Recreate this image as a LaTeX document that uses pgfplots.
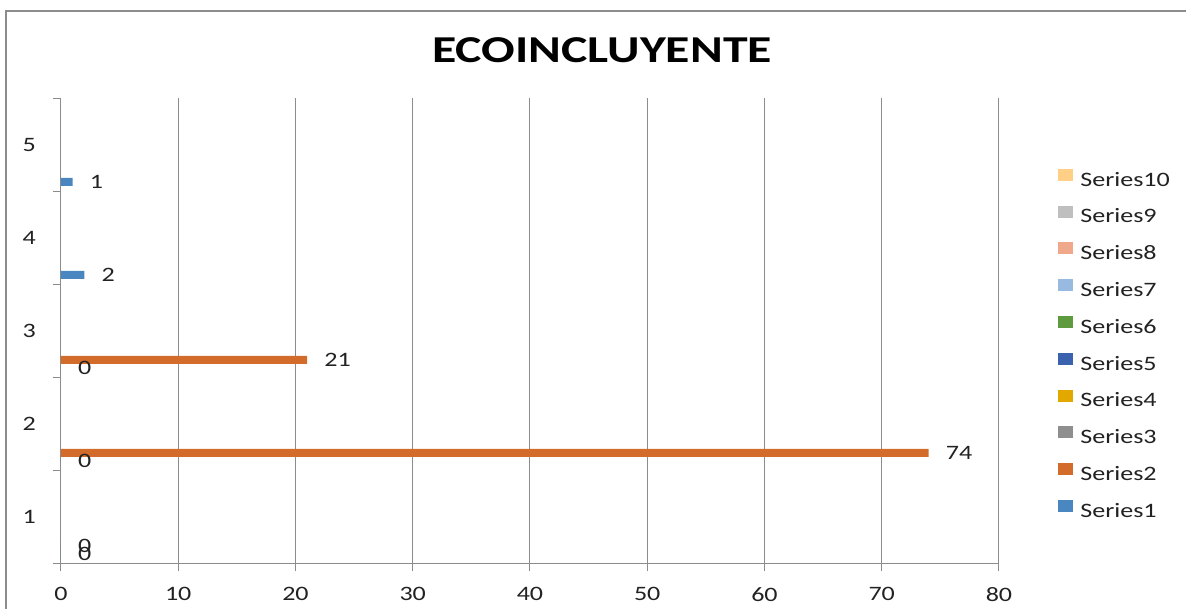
\documentclass[border=0pt]{standalone}
\usepackage{pgfplots}
\pgfplotsset{compat=1.18}
\usepackage{fontspec}
\setmainfont{Carlito}[FakeStretch=1.27]
\newfontfamily\titlefont{Carlito}[FakeStretch=1.31]

\definecolor{sA}{HTML}{4A86C0}
\definecolor{sB}{HTML}{D36C2A}
\definecolor{sC}{HTML}{8E8E8E}
\definecolor{sD}{HTML}{E2A800}
\definecolor{sE}{HTML}{3A62AF}
\definecolor{sF}{HTML}{5E9A3E}
\definecolor{sG}{HTML}{98B9E0}
\definecolor{sH}{HTML}{F0A88A}
\definecolor{sI}{HTML}{BFBFBF}
\definecolor{sJ}{HTML}{FFCF85}
\definecolor{gridgray}{HTML}{8C8C8C}
\definecolor{textcol}{HTML}{222222}

\newcommand{\lblfont}{\fontsize{20.5bp}{24bp}\selectfont}
\newcommand{\legsq}[1]{\addlegendimage{legend image code/.code={\fill[#1] (0bp,-0.5bp) rectangle (14bp,10.5bp);}}}

\begin{document}
\begin{tikzpicture}[x=1bp,y=1bp]
\path[use as bounding box] (0,0) rectangle (1186,609);
\draw[gridgray, line width=1.2bp] (6,0) -- (6,598) -- (1186,598);
\node[font=\titlefont\bfseries\fontsize{38bp}{44bp}\selectfont, anchor=base, text=black] at (602,546) {ECOINCLUYENTE};
\begin{axis}[
  at={(52,49)}, anchor=south west,
  scale only axis, width=938bp, height=465bp,
  xbar, bar width=8bp,
  xmin=0, xmax=80, ymin=0.5, ymax=5.5,
  axis x line=bottom, axis y line=left,
  axis line style={-, draw=gridgray, line width=1bp},
  xtick={0,10,...,80},
  tick align=outside, major tick length=8bp,
  tick style={draw=gridgray, line width=1bp},
  xmajorgrids, major grid style={draw=gridgray, line width=1bp},
  ytick={0.5,1.5,...,5.5}, yticklabels={,,,,,},
  extra y ticks={1,2,3,4,5},
  extra y tick labels={1,2,3,4,5},
  extra y tick style={major tick length=0pt},
  ticklabel style={font=\lblfont, text=textcol, inner sep=0pt},
  xticklabel style={anchor=north, yshift=-16bp},
  yticklabel style={anchor=east, xshift=-25bp},
  /pgf/number format/assume math mode=true,
  nodes near coords,
  every node near coord/.append style={anchor=west, inner sep=0pt, xshift=17bp, font=\lblfont, text=textcol},
  legend cell align=left,
  legend style={at={(1.0629,0.8486)}, anchor=north west, draw=none, fill=none,
    inner sep=0pt, outer sep=0pt, row sep=19.6bp,
    nodes={inner sep=0pt, text height=13bp, text depth=0pt, font=\lblfont, text=textcol},
    /tikz/every odd column/.append style={column sep=8bp}},
]
\addplot[fill=sA, draw=none, bar shift=-37bp, forget plot] coordinates {(0,1) (0,2) (0,3) (2,4) (1,5)};
\addplot[fill=sB, draw=none, bar shift=-29bp, forget plot] coordinates {(0,1) (74,2) (21,3)};
\legsq{sJ}\addlegendentry{Series10}
\legsq{sI}\addlegendentry{Series9}
\legsq{sH}\addlegendentry{Series8}
\legsq{sG}\addlegendentry{Series7}
\legsq{sF}\addlegendentry{Series6}
\legsq{sE}\addlegendentry{Series5}
\legsq{sD}\addlegendentry{Series4}
\legsq{sC}\addlegendentry{Series3}
\legsq{sB}\addlegendentry{Series2}
\legsq{sA}\addlegendentry{Series1}
\end{axis}
\end{tikzpicture}
\end{document}
